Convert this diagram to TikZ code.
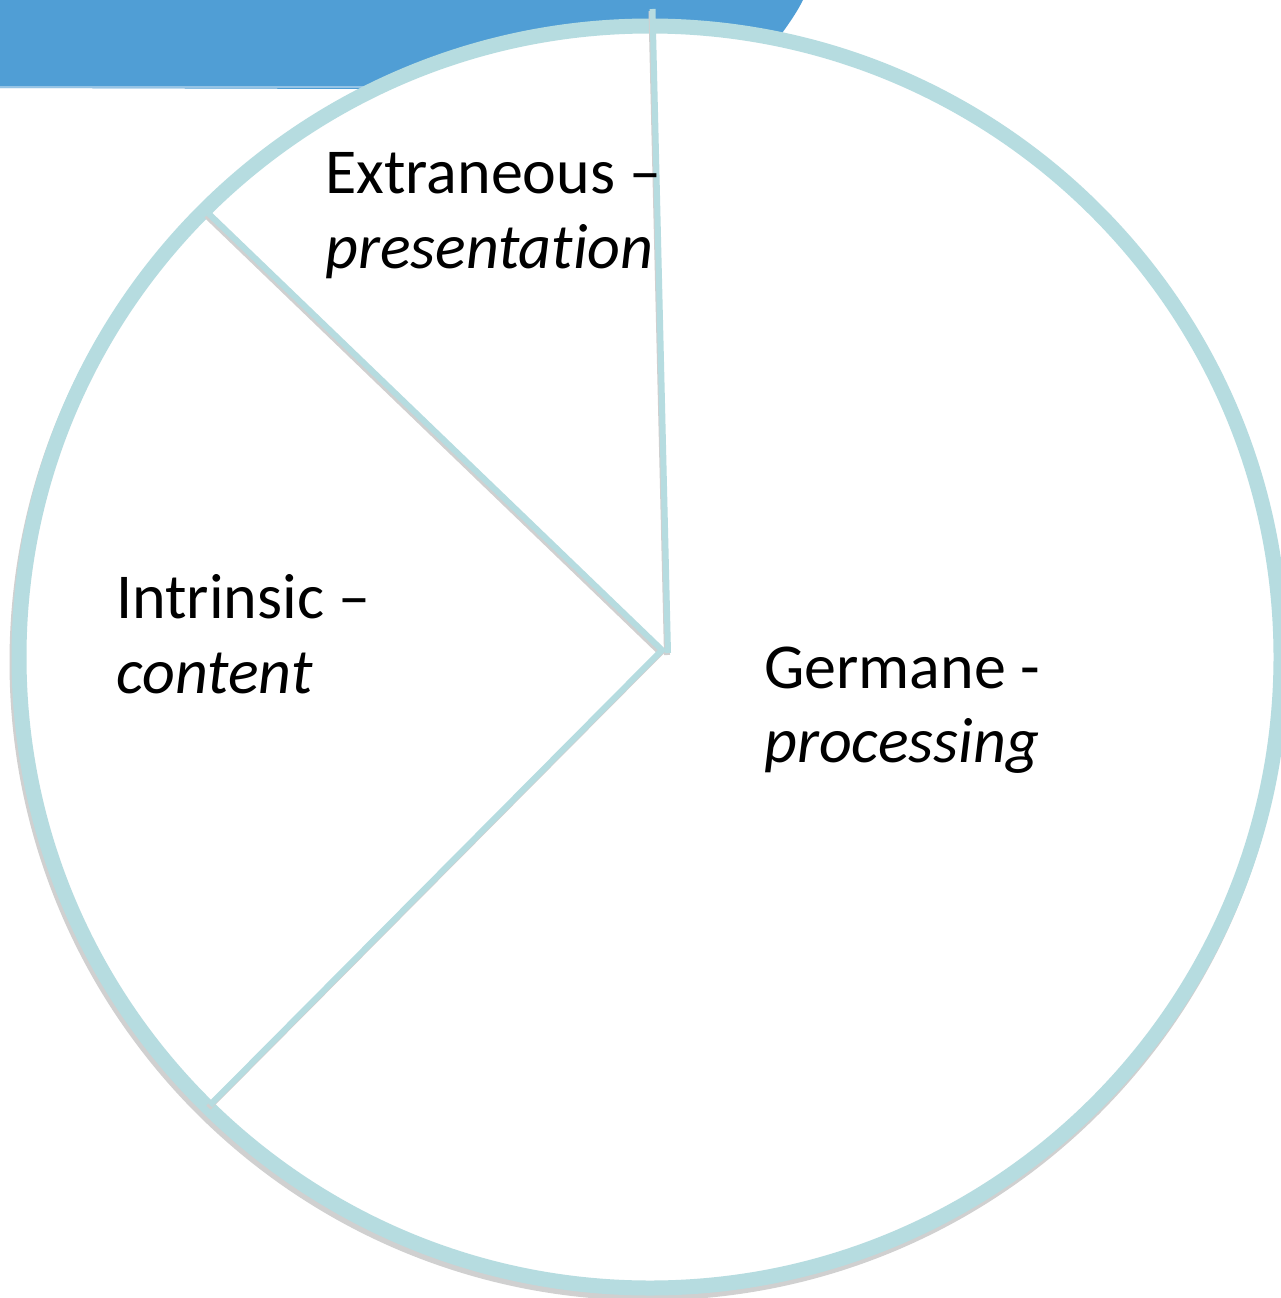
\documentclass[tikz,border=0pt]{standalone}
\usepackage{fontspec}
\setmainfont[Ligatures=NoCommon]{Carlito}
\definecolor{ringc}{RGB}{182,220,224}
\definecolor{bandc}{RGB}{80,158,213}
\definecolor{shadc}{RGB}{208,208,208}
\begin{document}
\begin{tikzpicture}[x=1pt,y=-1pt,
  ring/.style={draw=ringc,line width=15pt},
  spoke/.style={draw=ringc,line width=6pt},
  spokeshadow/.style={draw=shadc,line width=6pt},
  lbl/.style={anchor=base west,inner sep=0pt,font=\fontsize{64}{78}\selectfont}]
\useasboundingbox (0,0) rectangle (1280,1298);
\fill[white] (0,0) rectangle (1280,1298);
% blue band
\fill[bandc] (0,0) -- (803,0) .. controls (797,12) and (790,22) .. (780,36) -- (740,90) -- (0,88) -- cycle;
\draw[white,opacity=0.4,line width=1.5pt] (0,87) -- (400,87);
% circle
\coordinate (c) at (650,657);
\draw[shadc,line width=15pt] ([shift={(-2,5)}]c) circle (631);
\filldraw[fill=white,ring] (c) circle (631);
% spoke coordinates
\coordinate (vtop) at (652.5,9);
\coordinate (vbot) at (668,653);
\coordinate (ul) at (208,213);
\coordinate (apex) at (662,650);
\coordinate (ll) at (210,1105);
\draw[spokeshadow] ([shift={(-1.5,2.5)}]ul) -- ([shift={(-1.5,2.5)}]apex) -- ([shift={(-1.5,2.5)}]ll);
\draw[spokeshadow] ([shift={(-1,2)}]vtop) -- ([shift={(-1,2)}]vbot);
\draw[spoke] (ul) -- (apex) -- (ll);
\draw[spoke] (vtop) -- (vbot);
% labels
\node[lbl] (ext1) at (325,193) {Extraneous –};
\node[lbl] (ext2) at (325,268) {\itshape presentation};
\node[lbl] (int1) at (116,618) {Intrinsic –};
\node[lbl] (int2) at (116,693) {\itshape content};
\node[lbl] (ger1) at (764,688) {Germane -};
\node[lbl] (ger2) at (764,762) {\itshape processing};
\end{tikzpicture}
\end{document}
